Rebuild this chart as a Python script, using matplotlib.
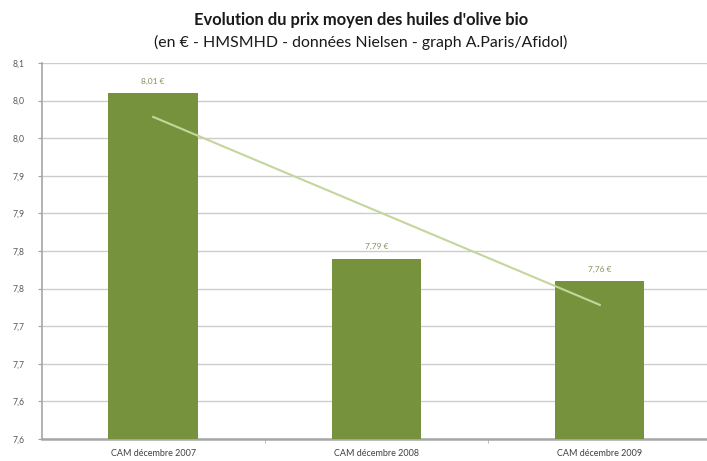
import numpy as np
import matplotlib
matplotlib.use("Agg")
import matplotlib.pyplot as plt

categories = ["CAM décembre 2007", "CAM décembre 2008", "CAM décembre 2009"]
values = [8.01, 7.79, 7.76]
value_labels = ["8,01 €", "7,79 €", "7,76 €"]
yticks = [7.55, 7.60, 7.65, 7.70, 7.75, 7.80, 7.85, 7.90, 7.95, 8.00, 8.05]
ytick_labels = ["7,6", "7,6", "7,7", "7,7", "7,8", "7,8", "7,9", "7,9", "8,0", "8,0", "8,1"]

plt.rcParams['font.family'] = ['Lato', 'DejaVu Sans']

fig = plt.figure(figsize=(7.07, 4.61), dpi=100)
fig.patch.set_facecolor('white')
ax = fig.add_axes([41.5/707, 22/461, 665.5/707, 376/461])

x = np.arange(1, len(values) + 1)
ax.bar(x, values, width=0.40, color='#76923c', zorder=3)

# linear trend line
coef = np.polyfit(x, values, 1)
ax.plot(x[[0, -1]], np.polyval(coef, x[[0, -1]]), color='#c3d69b', lw=1.5, zorder=4)

for xi, v, lab in zip(x, values, value_labels):
    ax.annotate(lab, (xi, v), xytext=(0, 6), textcoords='offset points',
                ha='center', va='bottom', fontsize=6, color='#8c8c5a')

ax.set_ylim(7.55, 8.05)
ax.set_xlim(0.5, 3.48)
ax.set_yticks(yticks)
ax.set_yticklabels(ytick_labels, fontsize=6.2, color='#595959')
ax.set_xticks(x)
ax.set_xticklabels(categories, fontsize=6.5, color='#404040')
ax.set_xticks([1.5, 2.5], minor=True)
ax.tick_params(axis='x', which='major', length=0, pad=7)
ax.tick_params(axis='x', which='minor', length=3, color='#b0b0b0', direction='out')
ax.tick_params(axis='y', length=3, color='#a0a0a0', direction='out', pad=9)

ax.grid(axis='y', color='#cccccc', lw=1, zorder=0)
for s in ['top', 'right']:
    ax.spines[s].set_visible(False)
ax.spines['left'].set_color('#a6a6a6')
ax.spines['left'].set_linewidth(1.2)
ax.spines['bottom'].set_color('#a6a6a6')
ax.spines['bottom'].set_linewidth(1.8)

fig.text(361/707, 1 - 20/461, "Evolution du prix moyen des huiles d'olive bio",
         ha='center', va='center', fontsize=11.9, fontweight='bold', color='#1a1a1a')
fig.text(361/707, 1 - 42/461, "(en € - HMSMHD - données Nielsen - graph A.Paris/Afidol)",
         ha='center', va='center', fontsize=11.4, color='#1a1a1a')

fig.savefig("out.png", dpi=100, facecolor='white')
